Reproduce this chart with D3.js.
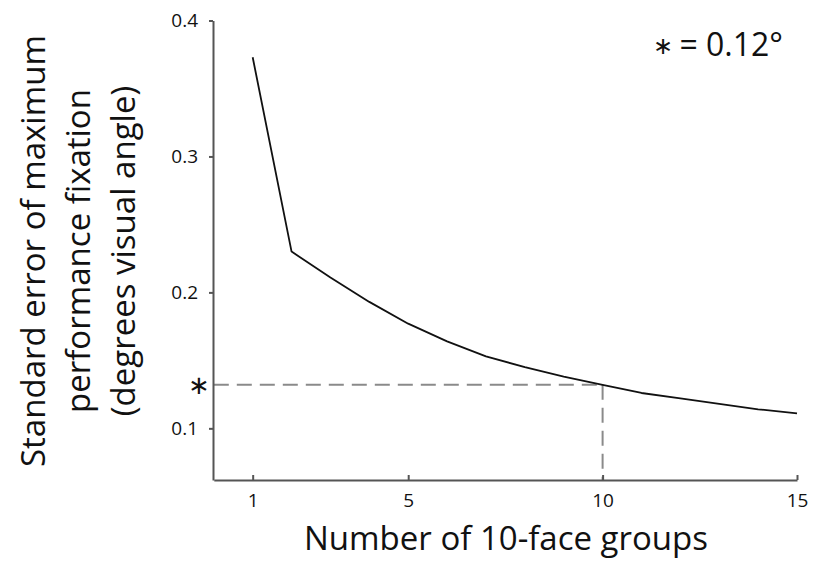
<!DOCTYPE html>
<html>
<head>
<meta charset="utf-8">
<script src="https://cdn.jsdelivr.net/npm/d3@7"></script>
<style>
  body { margin: 0; background: #fff; }
  svg { display: block; font-family: "Open Sans", sans-serif; }
</style>
</head>
<body>
<svg width="813" height="563"></svg>
<script>
// number of 10-face groups and the standard error
const groups = [1, 2, 3, 4, 5, 6, 7, 8, 9, 10, 11, 12, 13, 14, 15];
const stdErr = [0.373, 0.230, 0.211, 0.193, 0.177, 0.164, 0.153, 0.145, 0.138, 0.132, 0.126, 0.122, 0.118, 0.114, 0.111];
const xTicks = [1, 5, 10, 15];
const yTicks = [0.1, 0.2, 0.3, 0.4];
const markGroup = 10;
const markLabel = "= 0.12°";

const svg = d3.select("svg");

const x = d3.scaleLinear().domain([0, 15]).range([213.8, 797]);
const y = d3.scaleLinear().domain([0.062, 0.4]).range([480, 20.5]);

const markValue = stdErr[groups.indexOf(markGroup)];

// dashed guide to the marked point
const guide = svg.append("g")
    .attr("fill", "none")
    .attr("stroke", "#8a8a8a")
    .attr("stroke-width", 2)
    .attr("stroke-dasharray", "15,8");

guide.append("line")
    .attr("x1", x(0)).attr("x2", x(markGroup))
    .attr("y1", y(markValue)).attr("y2", y(markValue));

guide.append("line")
    .attr("x1", x(markGroup)).attr("x2", x(markGroup))
    .attr("y1", y(markValue)).attr("y2", y.range()[0]);

// curve
svg.append("path")
    .datum(groups.map((g, i) => [g, stdErr[i]]))
    .attr("fill", "none")
    .attr("stroke", "#111")
    .attr("stroke-width", 1.8)
    .attr("stroke-linejoin", "round")
    .attr("d", d3.line().x(d => x(d[0])).y(d => y(d[1])));

// axes
const yAxis = svg.append("g")
    .attr("transform", `translate(${x(0) - 0.8},0)`)
    .call(d3.axisLeft(y)
        .tickValues(yTicks)
        .tickFormat(d3.format(".1f"))
        .tickSize(4)
        .tickSizeOuter(0)
        .tickPadding(11));

const xAxis = svg.append("g")
    .attr("transform", `translate(0,${y.range()[0]})`)
    .call(d3.axisBottom(x)
        .tickValues(xTicks)
        .tickSize(-5)
        .tickSizeOuter(0)
        .tickPadding(14));

[yAxis, xAxis].forEach(a => {
    a.attr("font-family", null).attr("font-size", null);
    a.selectAll("path, line").attr("stroke", "#555").attr("stroke-width", 2);
    a.selectAll("text").attr("fill", "#111").style("font-size", "19px");
});

// asterisk next to the y axis
svg.append("text")
    .attr("x", 199)
    .attr("y", y(markValue))
    .attr("dy", "0.35em")
    .attr("text-anchor", "middle")
    .style("font-size", "26px")
    .attr("fill", "#111")
    .text("\u2217");

// annotation top right
const note = svg.append("text")
    .attr("x", 783)
    .attr("y", 56)
    .attr("text-anchor", "end")
    .attr("fill", "#111")
    .style("font-size", "32px");
note.append("tspan").style("font-size", "24px").attr("dy", "-2").text("\u2217 ");
note.append("tspan").attr("dy", "2").text(markLabel);

// axis titles
svg.append("text")
    .attr("x", 506)
    .attr("y", 550)
    .attr("text-anchor", "middle")
    .attr("fill", "#111")
    .style("font-size", "33px")
    .text("Number of 10-face groups");

const yTitle = ["Standard error of maximum", "performance fixation", "(degrees visual angle)"];
svg.append("g")
    .attr("transform", "translate(0,251) rotate(-90)")
    .selectAll("text")
    .data(yTitle)
    .join("text")
    .attr("x", 0)
    .attr("y", (d, i) => 45 + i * 45)
    .attr("text-anchor", "middle")
    .attr("fill", "#111")
    .style("font-size", "33px")
    .text(d => d);
</script>
</body>
</html>
